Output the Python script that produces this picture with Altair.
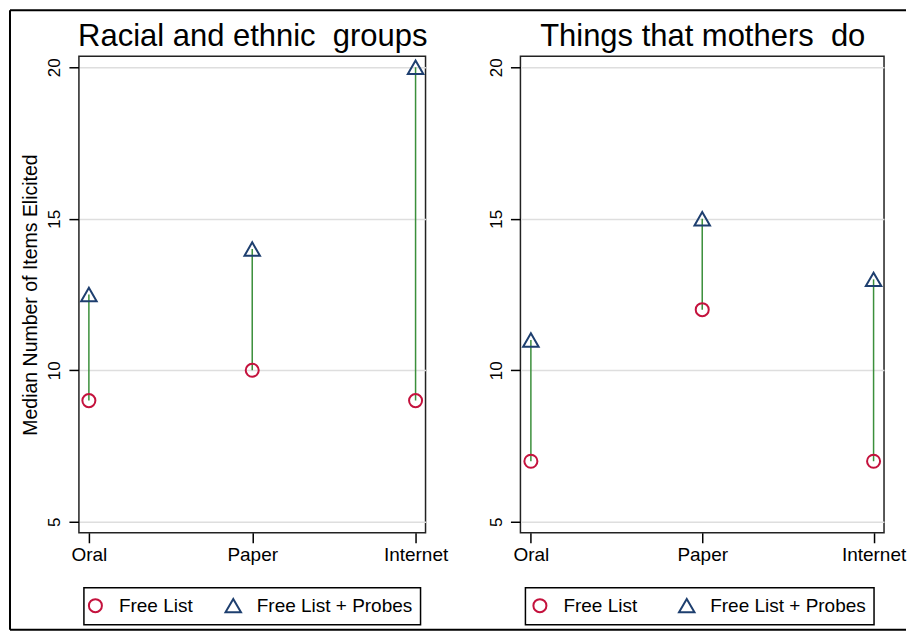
import altair as alt
import pandas as pd

# ---- data ----
methods = ["Oral", "Paper", "Internet"]
series = ["Free List", "Free List + Probes"]
racial_free = [9, 10, 9]
racial_probes = [12.5, 14, 20]
mothers_free = [7, 12, 7]
mothers_probes = [11, 15, 13]
titles = ["Racial and ethnic\u00a0 groups", "Things that mothers\u00a0 do"]
y_title = "Median Number of Items Elicited"
y_ticks = [5, 10, 15, 20]

# ---- style ----
FONT = "Liberation Sans"
RED = "#c4123d"
NAVY = "#1e3f6f"
GREEN = "#3b8f3b"
H = 477


def panel(free, probes, title, width, left, leg_opts):
    wide = pd.DataFrame({"method": methods, "free": free, "probes": probes})
    long = pd.DataFrame({
        "method": methods * 2,
        "series": [series[0]] * 3 + [series[1]] * 3,
        "value": list(free) + list(probes),
    })
    # the panel heading is carried by the x axis title, placed above the plot
    x = alt.X("method:N", sort=methods,
              scale=alt.Scale(type="point", padding=0.061),
              axis=alt.Axis(title=title, titleFontSize=31, titleFontWeight="normal",
                            titleY=-H - 11, titleBaseline="alphabetic",
                            labelAngle=0, grid=False,
                            labelFontSize=19, labelPadding=3, domain=False,
                            tickSize=10))
    y_scale = alt.Scale(domain=[4.64, 20.36], nice=False, zero=False)
    yaxis = alt.Axis(values=y_ticks, grid=True, labelAngle=270,
                     labelAlign="center", labelBaseline="bottom",
                     labelPadding=5, labelFontSize=17, tickSize=10,
                     domain=False,
                     title=y_title if left else None,
                     titleFontSize=19.5, titleFontWeight="normal",
                     titleX=-48, titleBaseline="middle")
    leg = alt.Legend(title=None, orient="none", direction="horizontal",
                     legendX=5, legendY=532, **leg_opts)
    rule = alt.Chart(wide).mark_rule(color=GREEN, strokeWidth=1.5).encode(
        x=x,
        y=alt.Y("free:Q", scale=y_scale, axis=yaxis),
        y2="probes:Q",
    )
    pts = alt.Chart(long).mark_point(filled=False, strokeWidth=2, opacity=1).encode(
        x=x,
        y=alt.Y("value:Q", scale=y_scale),
        color=alt.Color("series:N", scale=alt.Scale(domain=series, range=[RED, NAVY]), legend=leg),
        shape=alt.Shape("series:N", scale=alt.Scale(domain=series, range=["circle", "triangle-up"]), legend=leg),
        size=alt.Size("series:N", scale=alt.Scale(domain=series, range=[170, 240]), legend=None),
    )
    layers = [rule, pts]
    if left:
        # outer frame of the figure (top, left and bottom edges)
        frame_src = pd.DataFrame({"a": [0]})
        top = alt.Chart(frame_src).mark_rule(color="black", strokeWidth=2).encode(
            x=alt.value(-69), x2=alt.value(828), y=alt.value(-46))
        side = alt.Chart(frame_src).mark_rule(color="black", strokeWidth=2).encode(
            x=alt.value(-69), y=alt.value(-46), y2=alt.value(574))
        bottom = alt.Chart(frame_src).mark_rule(color="black", strokeWidth=2).encode(
            x=alt.value(-69), x2=alt.value(828), y=alt.value(574))
        layers = [top, side, bottom] + layers
    return alt.layer(*layers).properties(width=width, height=H)


p1 = panel(racial_free, racial_probes, titles[0], 347, True,
           dict(symbolOffset=-6, labelOffset=14, columnPadding=28))
p2 = panel(mothers_free, mothers_probes, titles[1], 364, False,
           dict(symbolOffset=-3, labelOffset=14, columnPadding=37))

chart = alt.hconcat(p1, p2, spacing=95, bounds="flush").resolve_scale(
    color="independent", shape="independent", size="independent"
).properties(padding=0, background="white").configure_view(
    stroke="#222222", strokeWidth=1.5
).configure_axis(
    labelFont=FONT, titleFont=FONT, labelColor="black", titleColor="black",
    tickColor="black", tickWidth=1.5, gridColor="#dedede", gridWidth=1.5,
).configure_legend(
    labelFont=FONT, labelFontSize=19, labelColor="black",
    strokeColor="black", strokeWidth=1.5, padding=8,
    symbolStrokeWidth=2, symbolSize=150,
)

chart.save("out.html", embed_options={"renderer": "svg", "actions": False})
